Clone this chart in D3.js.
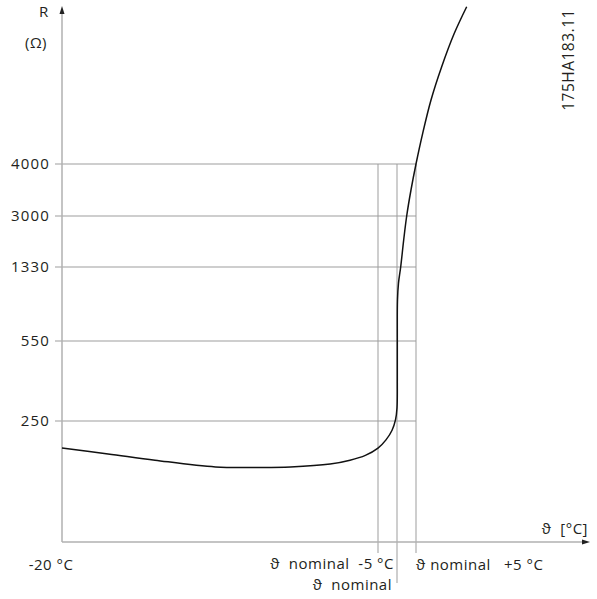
<!DOCTYPE html>
<html><head><meta charset="utf-8">
<script src="https://cdn.jsdelivr.net/npm/d3@7"></script>
<style>
html,body{margin:0;padding:0;background:#fff;}
text{font-family:"Open Sans","DejaVu Sans",sans-serif;fill:#231f20;white-space:pre;letter-spacing:0.5px;}
text.tick{letter-spacing:1.2px;}
</style></head>
<body>
<svg id="c" width="597" height="599"></svg>
<script>
// Y tick values (schematic, non-linear axis)
const rTicks = [250, 550, 1330, 3000, 4000];
// X reference temperatures, relative to nominal (schematic)
const xRefValues = [-5, 0, 5];
const xLabels = ["ϑ  nominal  -5 °C", "ϑ  nominal", "ϑ nominal   +5 °C"];
const xStartLabel = "-20 °C";
// Curve: relative temperature (°C vs nominal, schematic) and resistance (Ω)
const curveT = [-40, -34.9, -29.7, -23.0, -18.1, -14.7, -10.3, -8.1, -6.4, -5.0, -2.9, -1.3, -0.4, 0.0, 0.08, 0.08, 0.13, 0.39, 0.97, 1.76, 2.55, 3.68, 5.0, 6.76, 8.95, 11.76, 15.08, 18.34];
const curveR = [194, 182, 169, 155, 154, 155, 161, 169, 179, 194, 211, 231, 254, 299, 404, 556, 984, 1160, 1330, 2214, 3000, 3500, 4000, 4599, 5249, 5898, 6550, 7069];

const svg = d3.select("#c");
const x = d3.scaleLinear().domain([-40, -5, 50]).range([62, 378, 587]);
const y = d3.scaleLinear().domain([0, 250, 550, 1330, 3000, 4000, 7200]).range([542, 421, 341, 267, 216, 164, 0]);

const gridColor = "#9d9d9d";
const axisColor = "#b0b0b0";
const fs = 15;

// horizontal grid lines + tick labels
rTicks.forEach(r => {
  svg.append("line").attr("x1", 55).attr("x2", x(5)).attr("y1", y(r)).attr("y2", y(r))
    .attr("stroke", gridColor).attr("stroke-width", 1);
  svg.append("text").attr("class", "tick").attr("x", 50).attr("y", y(r)).attr("dy", "0.35em")
    .attr("text-anchor", "end").attr("font-size", fs).text(r);
});

// vertical reference lines
const vEnds = [553, 583, 553];
xRefValues.forEach((t, i) => {
  svg.append("line").attr("x1", x(t)).attr("x2", x(t)).attr("y1", y(4000)).attr("y2", vEnds[i])
    .attr("stroke", gridColor).attr("stroke-width", 1);
});

// axes
svg.append("line").attr("x1", x(-40)).attr("x2", x(-40)).attr("y1", y(0)).attr("y2", 12)
  .attr("stroke", axisColor).attr("stroke-width", 1.5);
svg.append("path").attr("d", `M${x(-40)-2.5},14 L${x(-40)},6 L${x(-40)+2.5},14 Z`).attr("fill", "#222");
svg.append("line").attr("x1", x(-40)).attr("x2", 584).attr("y1", y(0)).attr("y2", y(0))
  .attr("stroke", axisColor).attr("stroke-width", 1.5);
svg.append("path").attr("d", `M582,${y(0)-2.5} L590,${y(0)} L582,${y(0)+2.5} Z`).attr("fill", "#222");

// curve
const pts = curveT.map((t, i) => [x(t), y(curveR[i])]);
svg.append("path").attr("d", d3.line().curve(d3.curveCatmullRom.alpha(0.5))(pts))
  .attr("fill", "none").attr("stroke", "#111").attr("stroke-width", 1.5);

// axis titles
svg.append("text").attr("x", 44).attr("y", 17).attr("text-anchor", "middle").attr("font-size", fs).text("R");
svg.append("text").attr("x", 36).attr("y", 48).attr("text-anchor", "middle").attr("font-size", fs).text("(Ω)");
svg.append("text").attr("x", 588).attr("y", 534).attr("text-anchor", "end").attr("font-size", fs).text("ϑ  [°C]");

// x labels
svg.append("text").attr("x", 51).attr("y", 570).attr("text-anchor", "middle").attr("font-size", fs).text(xStartLabel);
svg.append("text").attr("x", 394).attr("y", 569).attr("text-anchor", "end").attr("font-size", fs).text(xLabels[0]);
svg.append("text").attr("x", 392).attr("y", 590).attr("text-anchor", "end").attr("font-size", fs).text(xLabels[1]);
svg.append("text").attr("x", 416).attr("y", 570).attr("text-anchor", "start").attr("font-size", fs).text(xLabels[2]);

// figure id
svg.append("text").attr("transform", "translate(574,60) rotate(-90)").attr("text-anchor", "middle")
  .attr("font-size", 15.5).text("175HA183.11");
</script>
</body></html>
